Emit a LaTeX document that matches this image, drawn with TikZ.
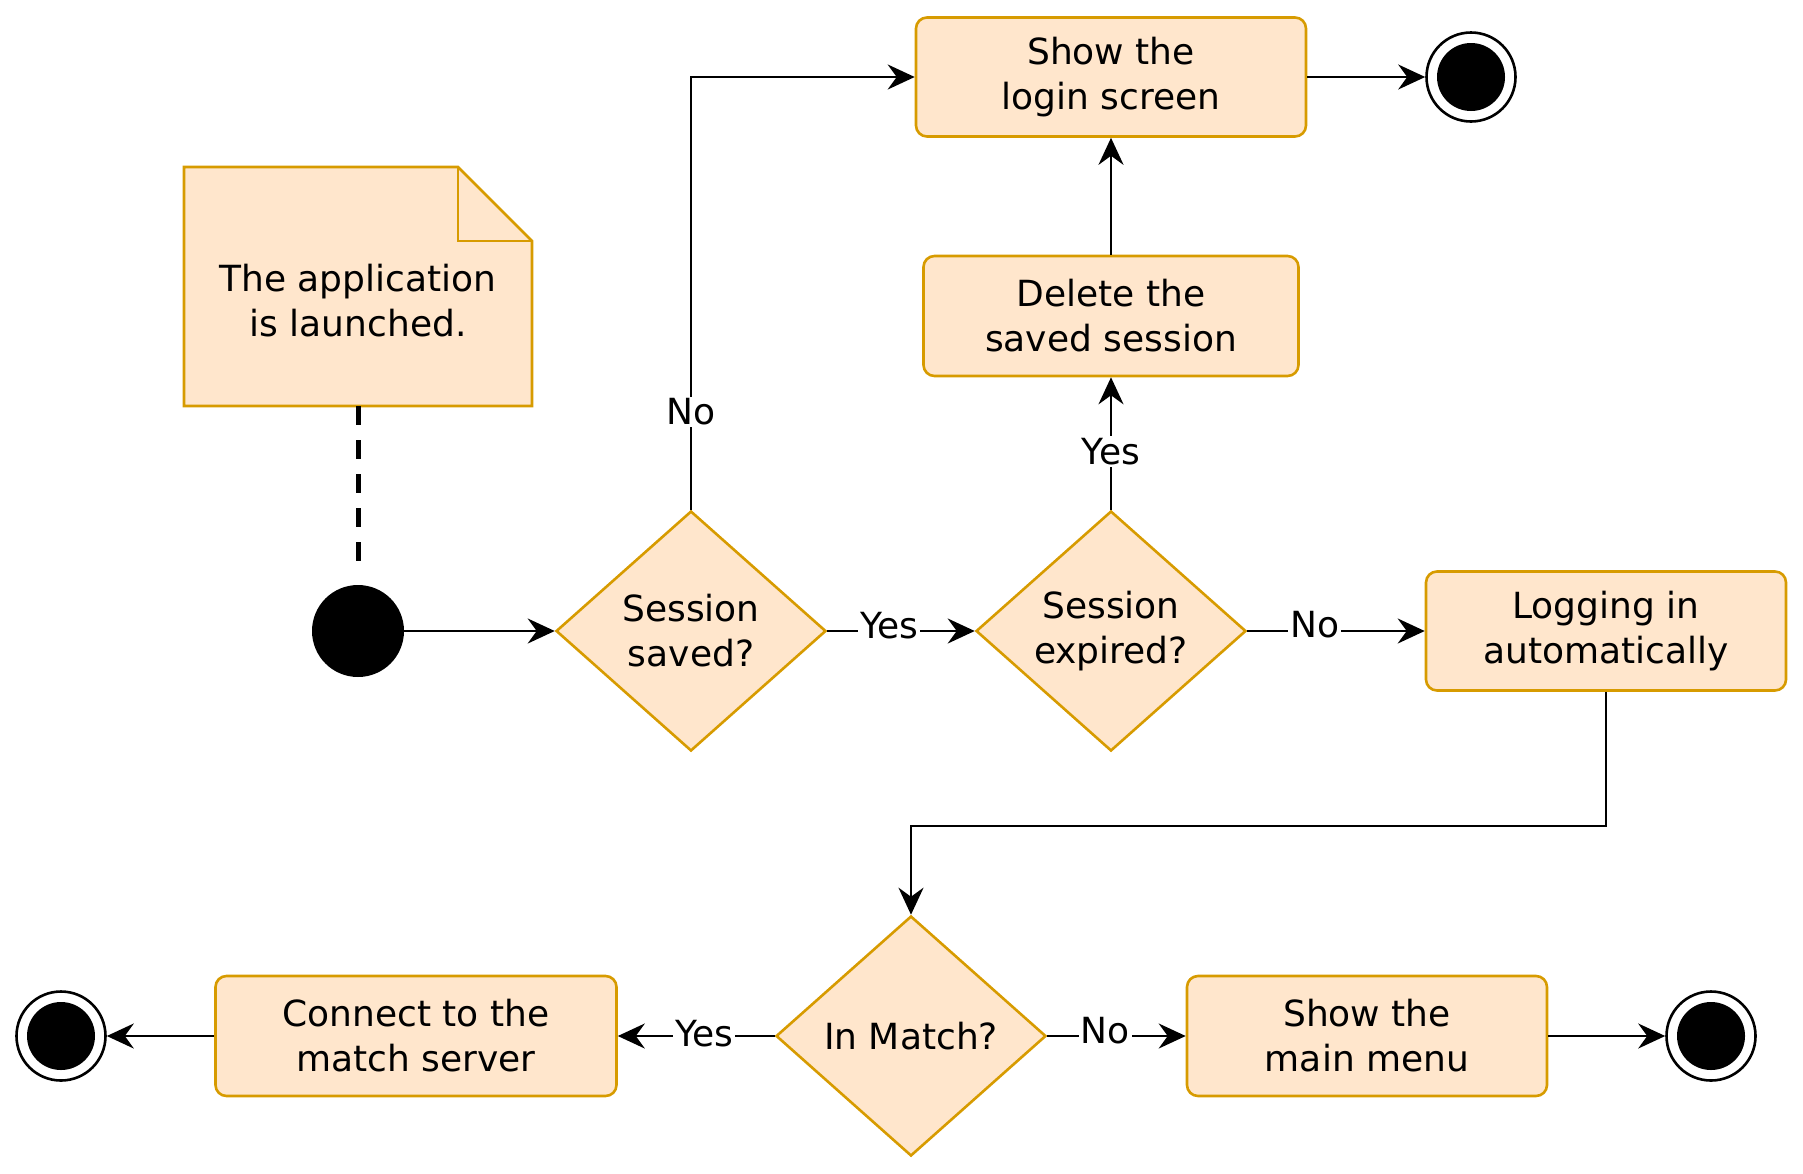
\documentclass[tikz,border=0pt]{standalone}
\usepackage{fontspec}
\setmainfont{DejaVu Sans}
\usetikzlibrary{shapes.geometric,arrows.meta}
\definecolor{boxfill}{HTML}{FFE6CC}
\definecolor{boxdraw}{HTML}{D79B00}
\begin{document}
\begin{tikzpicture}[x=1pt,y=-1pt,
  every node/.style={font=\fontsize{36}{45}\selectfont},
  actbox/.style={draw=boxdraw,fill=boxfill,line width=2.6pt,rounded corners=11pt,align=center,inner sep=0pt},
  decbox/.style={draw=boxdraw,fill=boxfill,line width=2.6pt,diamond,aspect=1.125,minimum width=270pt,minimum height=240pt,inner sep=0pt,align=center},
  conn/.style={line width=2.6pt,-{Stealth[length=27pt,width=25pt,inset=9pt]}},
  elabel/.style={fill=white,inner sep=2pt,font=\fontsize{36}{44}\selectfont},
  initnode/.style={circle,fill=black,minimum size=92pt,inner sep=0pt},
  finalnode/.style={circle,draw=black,line width=2.6pt,fill=white,minimum size=89pt,inner sep=0pt,
    path picture={\fill[black] (path picture bounding box.center) circle (34pt);}}
]
\useasboundingbox (0,0) rectangle (1803,1173);
% note
\draw[draw=boxdraw,fill=boxfill,line width=2.6pt,line join=miter]
  (184,167) -- (458,167) -- (532,241) -- (532,406) -- (184,406) -- cycle;
\draw[draw=boxdraw,line width=2.6pt] (458,167) -- (458,241) -- (532,241);
\node[align=center] (notetext) at (358,301) {The application\\is launched.};
\coordinate (notebot) at (358,406);
\coordinate (dashend) at (358,569);

\node[initnode] (init) at (358,631) {};
\node[decbox] (saved) at (691,631) {Session\\saved?};
\node[decbox] (expired) at (1111,631) {Session\\expired?};
\node[actbox,minimum width=360pt,minimum height=119pt] (logging) at (1606,631) {Logging in\\automatically};
\node[actbox,minimum width=390pt,minimum height=119pt] (login) at (1111,77) {Show the\\login screen};
\node[finalnode] (endtop) at (1471,77) {};
\node[actbox,minimum width=375pt,minimum height=120pt] (delete) at (1111,316) {Delete the\\saved session};
\node[decbox] (match) at (911,1036) {In Match?};
\node[actbox,minimum width=401pt,minimum height=120pt] (connect) at (416,1036) {Connect to the\\match server};
\node[finalnode] (endleft) at (61,1036) {};
\node[actbox,minimum width=360pt,minimum height=120pt] (mainmenu) at (1367,1036) {Show the\\main menu};
\node[finalnode] (endright) at (1711,1036) {};

\draw[line width=5pt,dash pattern=on 19pt off 15pt] (notebot) -- (dashend);
\draw[conn] (init) -- (saved);
\draw[conn] (saved) -- node[elabel,pos=0.42,yshift=5pt] {Yes} (expired);
\draw[conn] (expired) -- node[elabel,pos=0.38,yshift=6pt] {No} (logging);
\draw[conn] (expired.north) -- node[elabel,pos=0.44] {Yes} (delete.south);
\draw[conn] (delete.north) -- (login.south);
\draw[conn] (saved.north) |- node[elabel,pos=0.113] {No} (login.west);
\draw[conn] (login) -- (endtop);
\draw[conn] (logging.south) |- (911,826) -- (match.north);
\draw[conn] (match) -- node[elabel,pos=0.45,yshift=2pt] {Yes} (connect);
\draw[conn] (connect) -- (endleft);
\draw[conn] (match) -- node[elabel,pos=0.42,yshift=5pt] {No} (mainmenu);
\draw[conn] (mainmenu) -- (endright);
\end{tikzpicture}
\end{document}
